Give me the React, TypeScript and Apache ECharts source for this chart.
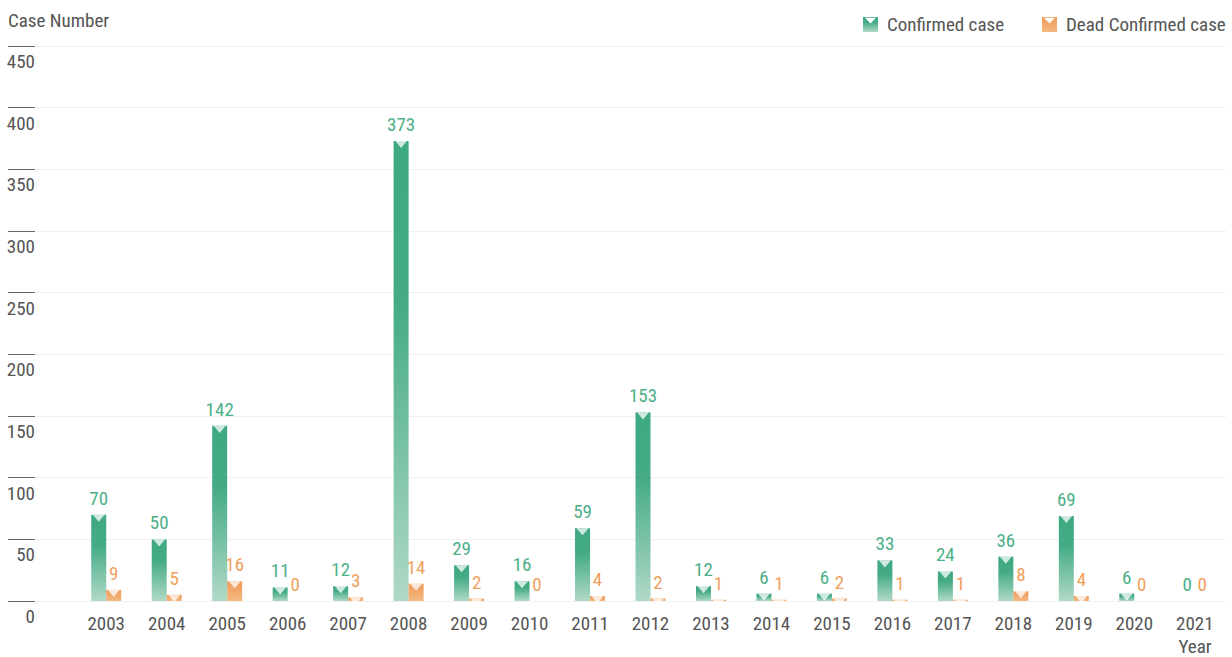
import React, { useEffect, useRef } from "react";
import * as echarts from "echarts";

const years = ["2003", "2004", "2005", "2006", "2007", "2008", "2009", "2010", "2011", "2012", "2013", "2014", "2015", "2016", "2017", "2018", "2019", "2020", "2021"];
const confirmed = [70, 50, 142, 11, 12, 373, 29, 16, 59, 153, 12, 6, 6, 33, 24, 36, 69, 6, 0];
const dead = [9, 5, 16, 0, 3, 14, 2, 0, 4, 2, 1, 1, 2, 1, 1, 8, 4, 0, 0];
const yMin = 0;
const yMax = 450;
const yInterval = 50;
const seriesNames = ["Confirmed case", "Dead Confirmed case"];

const FONT = "'Roboto Condensed', 'Roboto', sans-serif";
const FS = 19;
const TEXT = "#555555";
const GREEN_LABEL = "#4caf88";
const ORANGE_LABEL = "#f0a05c";
const ICON = "path://M0,0L15,0L15,15L0,15Z M2,0.8L7.5,6.5L13,0.8Z";
const TRI = "path://M0,0L12,0L6,7Z";

const greenGrad = () =>
  new echarts.graphic.LinearGradient(0, 0, 0, 1, [
    { offset: 0, color: "#3ea981" },
    { offset: 0.35, color: "#44ab85" },
    { offset: 1, color: "#b0d9c7" },
  ]);
const orangeGrad = () =>
  new echarts.graphic.LinearGradient(0, 0, 0, 1, [
    { offset: 0, color: "#ee9b58" },
    { offset: 1, color: "#f4b881" },
  ]);

export default function App() {
  const ref = useRef<HTMLDivElement>(null);
  useEffect(() => {
    if (!ref.current) return;
    const chart = echarts.init(ref.current, undefined, { renderer: "svg" });
    const barCommon = {
      type: "bar",
      xAxisIndex: 1,
      yAxisIndex: 1,
      barWidth: 15,
      barGap: "0%",
    };
    const triCommon = {
      type: "pictorialBar",
      xAxisIndex: 1,
      yAxisIndex: 1,
      barWidth: 15,
      barGap: "0%",
      symbol: TRI,
      symbolSize: [12, 7],
      symbolPosition: "end",
      silent: true,
      z: 3,
      itemStyle: { color: "rgba(255,255,255,0.75)" },
      label: { show: false },
    };
    const labelCommon = {
      show: true,
      position: "top",
      distance: 7,
      fontSize: FS,
      fontFamily: FONT,
    };
    const legendCommon = {
      top: 10,
      itemWidth: 15,
      itemHeight: 15,
      icon: ICON,
      textStyle: { fontSize: FS, color: TEXT, fontFamily: FONT, padding: [0, 0, 0, 4] },
    };
    chart.setOption({
      animation: false,
      backgroundColor: "#ffffff",
      textStyle: { fontFamily: FONT },
      legend: [
        { ...legendCommon, left: 858, data: [seriesNames[0]] },
        { ...legendCommon, left: 1037, data: [seriesNames[1]] },
      ],
      grid: [
        { left: 35, right: 6, top: 46, bottom: 56 },
        { left: 76, right: 7, top: 46, bottom: 56 },
      ],
      xAxis: [
        { gridIndex: 0, type: "value", show: false },
        {
          gridIndex: 1,
          type: "category",
          data: years,
          axisLine: { show: false },
          axisTick: { show: false },
          axisLabel: { margin: 13, lineHeight: 19, color: TEXT, fontSize: FS, fontFamily: FONT },
        },
      ],
      yAxis: [
        {
          gridIndex: 0,
          type: "value",
          min: yMin,
          max: yMax,
          interval: yInterval,
          axisLine: { show: false },
          axisTick: { show: true, length: 27, lineStyle: { color: "#666666" } },
          axisLabel: {
            margin: 0,
            color: TEXT,
            fontSize: FS,
            fontFamily: FONT,
            verticalAlign: "top",
            padding: [6, 0, 0, 0],
          },
          splitLine: { lineStyle: { color: "#f0f0f0" } },
        },
        { gridIndex: 1, type: "value", min: yMin, max: yMax, interval: yInterval, show: false },
      ],
      graphic: [
        {
          type: "text",
          left: 8,
          top: 11,
          style: { text: "Case Number", fontSize: FS, fill: TEXT, fontFamily: FONT },
        },
        {
          type: "text",
          x: 1195,
          y: 637,
          style: {
            text: "Year",
            fontSize: FS,
            lineHeight: 19,
            fill: TEXT,
            fontFamily: FONT,
            align: "center",
            verticalAlign: "top",
          },
        },
      ],
      series: [
        {
          ...barCommon,
          name: seriesNames[0],
          data: confirmed,
          itemStyle: { color: greenGrad() },
          label: { ...labelCommon, color: GREEN_LABEL },
        },
        {
          ...barCommon,
          name: seriesNames[1],
          data: dead,
          itemStyle: { color: orangeGrad() },
          label: { ...labelCommon, color: ORANGE_LABEL },
        },
        { ...triCommon, name: "tri1", data: confirmed.map((v) => (v > 0 ? v : "-")) },
        { ...triCommon, name: "tri2", data: dead.map((v) => (v > 0 ? v : "-")) },
      ],
    });
    return () => chart.dispose();
  }, []);
  return (
    <div
      ref={ref}
      style={{ position: "absolute", left: 0, top: 0, width: 1232, height: 657 }}
    />
  );
}
